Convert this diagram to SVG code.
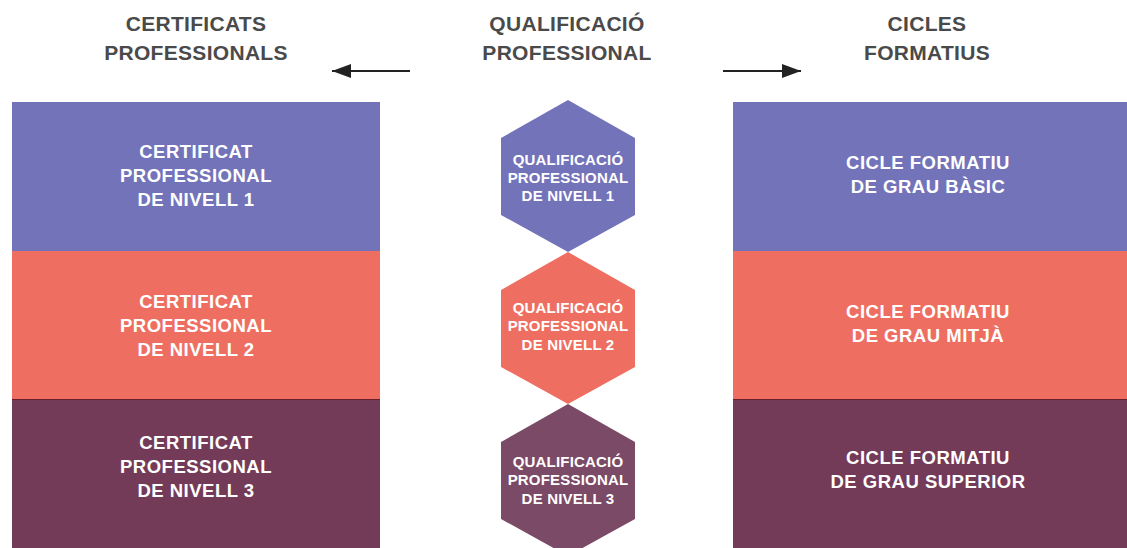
<svg xmlns="http://www.w3.org/2000/svg" width="1127" height="548" viewBox="0 0 1127 548">
<style>
.hdr{font-family:"Liberation Sans",Arial,sans-serif;font-weight:bold;font-size:21px;letter-spacing:0.3px;fill:#4a4a4a;text-anchor:middle}
.lbl{font-family:"Liberation Sans",Arial,sans-serif;font-weight:bold;font-size:18.5px;letter-spacing:0.5px;fill:#ffffff;text-anchor:middle}
.hx{font-family:"Liberation Sans",Arial,sans-serif;font-weight:bold;font-size:15px;letter-spacing:0.2px;fill:#ffffff;text-anchor:middle}
.c1{fill:#7373BA}.c2{fill:#EE6F61}.c3{fill:#733B58}.c3h{fill:#7B4A66}
.arr{stroke:#222;stroke-width:2;fill:none}
</style>
<defs>
<marker id="ah" viewBox="0 0 19 14" refX="19" refY="7" markerWidth="19" markerHeight="14" markerUnits="userSpaceOnUse" orient="auto">
<path d="M0,0 L19,7 L0,14 Z" fill="#222"/>
</marker>
</defs>
<g id="headers">
<text class="hdr" x="196" y="31">CERTIFICATS</text>
<text class="hdr" x="196" y="60">PROFESSIONALS</text>
<text class="hdr" x="567" y="31">QUALIFICACIÓ</text>
<text class="hdr" x="567" y="60">PROFESSIONAL</text>
<text class="hdr" x="927" y="31">CICLES</text>
<text class="hdr" x="927" y="60">FORMATIUS</text>
</g>
<g id="connectors">
<line class="arr" x1="410" y1="71" x2="332" y2="71" marker-end="url(#ah)"/>
<line class="arr" x1="723" y1="71" x2="801" y2="71" marker-end="url(#ah)"/>
</g>
<g id="cert1"><rect class="c1" x="12" y="102" width="368" height="149"/>
<text class="lbl" x="196" y="158">CERTIFICAT</text><text class="lbl" x="196" y="182">PROFESSIONAL</text><text class="lbl" x="196" y="206">DE NIVELL 1</text></g>
<g id="cert2"><rect class="c2" x="12" y="251" width="368" height="148"/>
<text class="lbl" x="196" y="308">CERTIFICAT</text><text class="lbl" x="196" y="332">PROFESSIONAL</text><text class="lbl" x="196" y="356">DE NIVELL 2</text></g>
<g id="cert3"><rect class="c3" x="12" y="399" width="368" height="149"/>
<line x1="12" y1="399.5" x2="380" y2="399.5" stroke="#6a1f2e" stroke-width="1"/>
<text class="lbl" x="196" y="449">CERTIFICAT</text><text class="lbl" x="196" y="473">PROFESSIONAL</text><text class="lbl" x="196" y="497">DE NIVELL 3</text></g>
<g id="qual1"><polygon class="c1" points="568,100 635,138 635,215 568,252 501,215 501,138"/>
<text class="hx" x="568" y="165">QUALIFICACIÓ</text><text class="hx" x="568" y="183">PROFESSIONAL</text><text class="hx" x="568" y="201">DE NIVELL 1</text></g>
<g id="qual2"><polygon class="c2" points="568,252 635,290 635,367 568,404 501,367 501,290"/>
<text class="hx" x="568" y="313">QUALIFICACIÓ</text><text class="hx" x="568" y="331">PROFESSIONAL</text><text class="hx" x="568" y="350">DE NIVELL 2</text></g>
<g id="qual3"><polygon class="c3h" points="568,404 635,442 635,519 568,556 501,519 501,442"/>
<text class="hx" x="568" y="467">QUALIFICACIÓ</text><text class="hx" x="568" y="485">PROFESSIONAL</text><text class="hx" x="568" y="504">DE NIVELL 3</text></g>
<g id="cicle1"><rect class="c1" x="733" y="102" width="394" height="149"/>
<text class="lbl" x="928" y="169">CICLE FORMATIU</text><text class="lbl" x="928" y="193">DE GRAU BÀSIC</text></g>
<g id="cicle2"><rect class="c2" x="733" y="251" width="394" height="148"/>
<text class="lbl" x="928" y="318">CICLE FORMATIU</text><text class="lbl" x="928" y="342">DE GRAU MITJÀ</text></g>
<g id="cicle3"><rect class="c3" x="733" y="399" width="394" height="149"/>
<line x1="733" y1="399.5" x2="1127" y2="399.5" stroke="#6a1f2e" stroke-width="1"/>
<text class="lbl" x="928" y="464">CICLE FORMATIU</text><text class="lbl" x="928" y="488">DE GRAU SUPERIOR</text></g>
</svg>
